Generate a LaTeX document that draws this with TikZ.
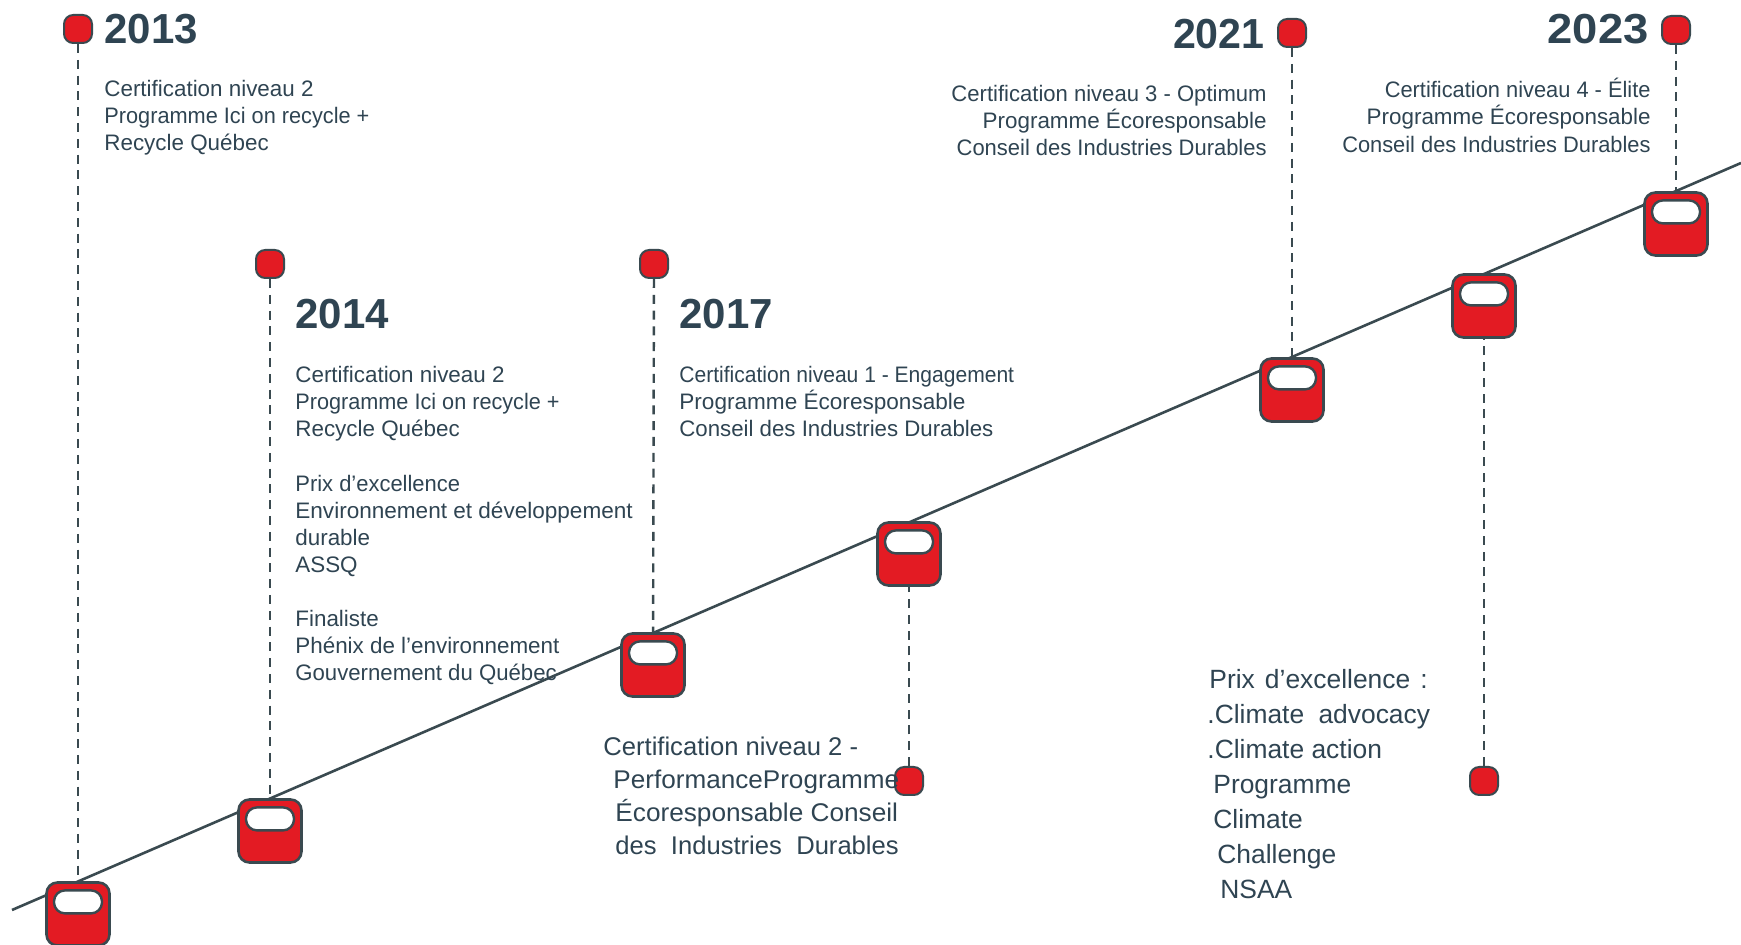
\documentclass[tikz,border=0pt]{standalone}
\usepackage{graphicx}
\usepackage{fontspec}
\setmainfont{Liberation Sans}
\definecolor{ink}{HTML}{2F4452}
\definecolor{edge}{HTML}{3A4A50}
\definecolor{redbox}{HTML}{E31B23}
\newcommand{\sx}[2]{\scalebox{#1}[1]{#2}}
\tikzset{
  x=0.5pt,y=-0.5pt,
  boxnode/.style={draw=edge,fill=redbox,line width=1.3pt,rounded corners=5.5pt,minimum size=31.5pt,inner sep=0pt},
  winnode/.style={draw=edge,fill=white,line width=1.2pt,rounded corners=5.5pt,minimum width=24pt,minimum height=11.5pt,inner sep=0pt,anchor=north},
  dotnode/.style={draw=edge,fill=redbox,line width=1pt,rounded corners=4.6pt,minimum size=14pt,inner sep=0pt},
  year/.style={font=\fontsize{21}{24}\selectfont\bfseries,text=ink,inner sep=0pt},
  bodyl/.style={font=\fontsize{11.2}{13.55}\selectfont,text=ink,inner sep=0pt,anchor=north west,align=left},
  bodyr/.style={font=\fontsize{11.2}{13.55}\selectfont,text=ink,inner sep=0pt,anchor=north east,align=right},
  biga/.style={font=\fontsize{12.8}{16.4}\selectfont,text=ink,inner sep=0pt,anchor=north west,align=left},
  bigb/.style={font=\fontsize{13.2}{17.5}\selectfont,text=ink,inner sep=0pt,anchor=north west,align=left},
  axisline/.style={draw=edge,line width=1.3pt},
  dashline/.style={draw=edge,line width=1.2pt,dash pattern=on 4.5pt off 3.4pt}
}
\begin{document}
\begin{tikzpicture}
\useasboundingbox (0,0) rectangle (1741,945);
\coordinate (axisA) at (12,910);
\coordinate (axisB) at (1741,163);
\draw[axisline] (axisA) -- (axisB);
% dots
\node[dotnode] (d1) at (78,29) {};
\node[dotnode] (d2) at (270,264) {};
\node[dotnode] (d3) at (654,264) {};
\node[dotnode] (d4) at (909,781) {};
\node[dotnode] (d5) at (1292,33) {};
\node[dotnode] (d6) at (1484,781) {};
\node[dotnode] (d7) at (1676,30) {};
% boxes
\node[boxnode] (b1) at (78,914) {};
\node[boxnode] (b2) at (270,831) {};
\node[boxnode] (b3) at (653,665) {};
\node[boxnode] (b4) at (909,554) {};
\node[boxnode] (b5) at (1292,390) {};
\node[boxnode] (b6) at (1484,306) {};
\node[boxnode] (b7) at (1676,224) {};
\foreach \n in {1,...,7}{
  \node[winnode] (w\n) at ([yshift=-4pt]b\n.north) {};
  \draw[dashline] (d\n) -- (b\n);
}
% years
\node[year,anchor=west] (y1) at (104,29) {2013};
\node[year,anchor=west] (y2) at (295,314) {2014};
\node[year,anchor=west] (y3) at (679,314) {2017};
\node[year,anchor=east] (y4) at (1265,34) {\sx{0.98}{2021}};
\node[year,anchor=east] (y5) at (1649,29) {\sx{1.08}{2023}};
% texts
\node[bodyl] (t1) at (104,80) {Certification niveau 2\\\sx{0.97}{Programme Ici on recycle +}\\Recycle Québec};
\node[bodyl] (t2) at (295,366) {Certification niveau 2\\\sx{0.967}{Programme Ici on recycle +}\\Recycle Québec\\[13.55pt]\sx{0.98}{Prix d’excellence}\\\sx{1.007}{Environnement et développement}\\durable\\ASSQ\\[13.55pt]Finaliste\\Phénix de l’environnement\\\sx{0.99}{Gouvernement du Québec}};
\node[bodyl] (t3) at (679,366) {\sx{0.94}{Certification niveau 1 - Engagement}\\\sx{1.008}{Programme Écoresponsable}\\\sx{0.993}{Conseil des Industries Durables}};
\node[bodyr] (t4) at (1267,85) {\sx{0.985}{Certification niveau 3 - Optimum}\\Programme Écoresponsable\\\sx{0.98}{Conseil des Industries Durables}};
\node[bodyr] (t5) at (1651,78) {\sx{0.975}{Certification niveau 4 - Élite}\\Programme Écoresponsable\\\sx{0.975}{Conseil des Industries Durables}};
\node[biga] (t6) at (603,737) {Certification niveau 2 -\\\hspace*{5pt}\sx{1.02}{PerformanceProgramme}\\\hspace*{6pt}\sx{1.024}{Écoresponsable Conseil}\\\hspace*{6pt}des\hspace{3.6pt} Industries\hspace{3.6pt} Durables};
\node[bigb] (t7) at (1207,669) {\hspace*{1pt}Prix\hspace{1.4pt} d’excellence\hspace{1.4pt} :\\.Climate\hspace{3.5pt} advocacy\\.Climate action\\\hspace*{3pt}Programme\\\hspace*{3pt}Climate\\\hspace*{5pt}Challenge\\\hspace*{6.5pt}NSAA};
\end{tikzpicture}
\end{document}
